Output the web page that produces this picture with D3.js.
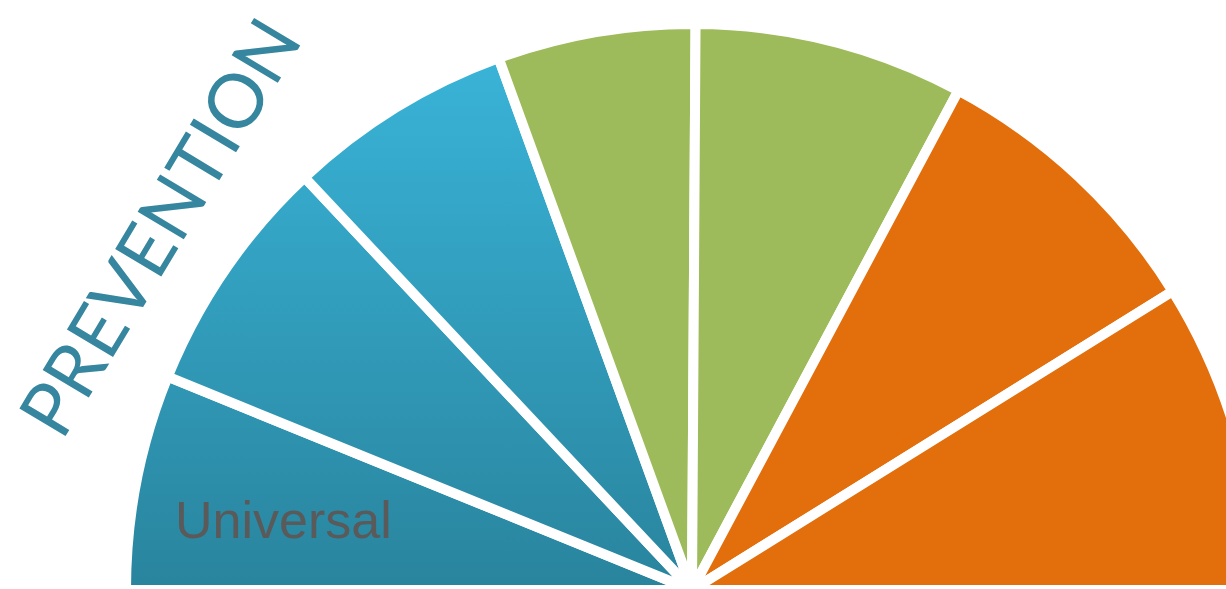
<!DOCTYPE html>
<html>
<head>
<meta charset="utf-8">
<script src="https://cdn.jsdelivr.net/npm/d3@7"></script>
<style>
  html, body { margin: 0; padding: 0; background: #ffffff; }
  svg { display: block; }
</style>
</head>
<body>
<svg id="chart" width="1226" height="589"></svg>
<script>
// Share of the half-circle taken by each segment, left to right
const shares = [12.3, 13.7, 12.9, 11.3, 15.4, 16.7, 17.7];
// Colour family of each segment
const sliceGroups = ["blue", "blue", "blue", "green", "green", "orange", "orange"];
// Label drawn inside a segment (empty = no label)
const sliceLabels = ["Universal", "", "", "", "", "", ""];
const headline = "PREVENTION";

const svg = d3.select("#chart");
const cx = 692, cy = 590;
const radius = 566;

// Vertical gradient shared by the blue segments (in the pie group's coordinates)
const defs = svg.append("defs");
const grad = defs.append("linearGradient")
  .attr("id", "blueGrad")
  .attr("gradientUnits", "userSpaceOnUse")
  .attr("x1", 0).attr("y1", -radius + 40)
  .attr("x2", 0).attr("y2", 0);
grad.append("stop").attr("offset", "0%").attr("stop-color", "#39b3d7");
grad.append("stop").attr("offset", "100%").attr("stop-color", "#29849d");

const fillFor = {
  blue: "url(#blueGrad)",
  green: "#9dbb5a",
  orange: "#e36e0c"
};

const pie = d3.pie()
  .sort(null)
  .value(d => d)
  .startAngle(-Math.PI / 2)
  .endAngle(Math.PI / 2);

const arc = d3.arc().innerRadius(0).outerRadius(radius);

const g = svg.append("g").attr("transform", `translate(${cx},${cy})`);

g.selectAll("path.slice")
  .data(pie(shares))
  .join("path")
  .attr("class", "slice")
  .attr("d", arc)
  .attr("fill", (d, i) => fillFor[sliceGroups[i]])
  .attr("stroke", "#ffffff")
  .attr("stroke-width", 10)
  .attr("stroke-linejoin", "round");

// Segment label
svg.append("text")
  .attr("x", 175)
  .attr("y", 538)
  .attr("font-family", "'Liberation Sans', Arial, sans-serif")
  .attr("font-size", 52)
  .attr("fill", "#5a5a5a")
  .text(sliceLabels[0]);

// Slanted heading along the left edge
svg.append("text")
  .attr("transform", "translate(62,442) rotate(-59)")
  .attr("font-family", "Lato, sans-serif")
  .attr("font-size", 75)
  .attr("fill", "#35869e")
  .text(headline);
</script>
</body>
</html>
